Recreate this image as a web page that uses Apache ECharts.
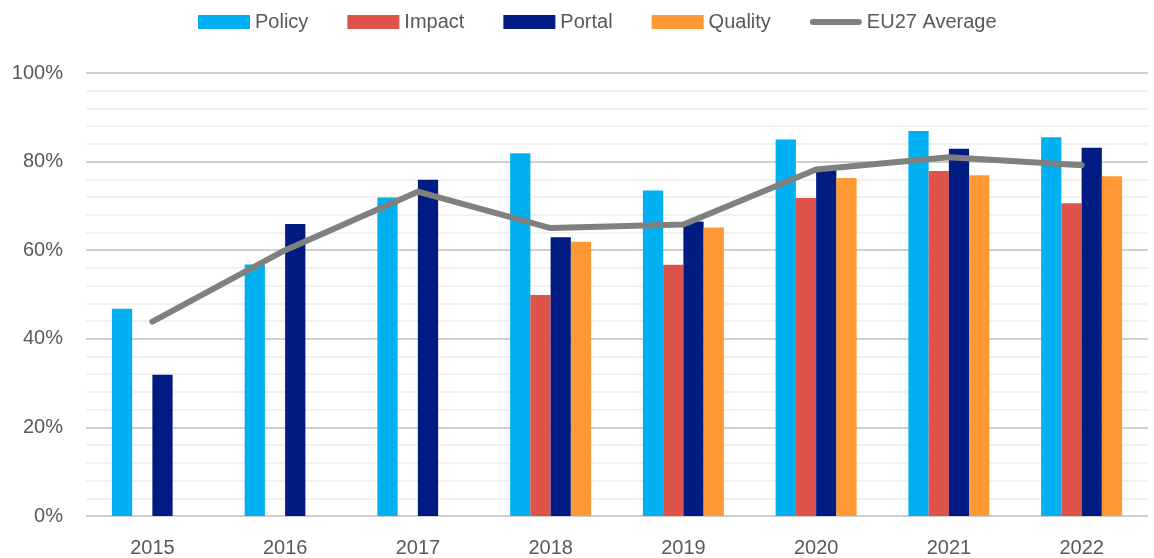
<!DOCTYPE html>
<html><head><meta charset="utf-8">
<script src="https://cdn.jsdelivr.net/npm/echarts@6/dist/echarts.min.js"></script>
<style>html,body{margin:0;padding:0;background:#fff}#c{width:1154px;height:558px}</style>
</head><body><div id="c"></div>
<script>
const years = ['2015','2016','2017','2018','2019','2020','2021','2022'];
const policy  = [46.8, 56.8, 71.9, 81.9, 73.5, 85.0, 86.9, 85.5];
const impact  = [null, null, null, 49.9, 56.7, 71.8, 77.9, 70.6];
const portal  = [31.9, 65.9, 75.9, 62.9, 66.5, 78.8, 82.9, 83.1];
const quality = [null, null, null, 61.9, 65.1, 76.3, 76.9, 76.7];
const eu27    = [43.9, 60.0, 73.2, 65.0, 65.8, 78.2, 81.0, 79.2];

const FONT = '"Liberation Sans", sans-serif';
const chart = echarts.init(document.getElementById('c'), null, {renderer:'canvas'});
const bar = (name, data, color) => ({
  name, type:'bar', data, barGap:'0%', barCategoryGap:'39%',
  itemStyle:{color}
});
chart.setOption({
  animation:false,
  textStyle:{fontFamily:FONT},
  legend:{
    top:7, left:193, itemWidth:52, itemHeight:14, itemGap:39,
    symbolKeepAspect:true,
    textStyle:{fontSize:20, color:'#595959', fontFamily:FONT},
    data:[
      {name:'Policy', icon:'rect'},
      {name:'Impact', icon:'rect'},
      {name:'Portal', icon:'rect'},
      {name:'Quality', icon:'rect'},
      {name:'EU27 Average', icon:'path://M3.5,0 L56.5,0 A3.5,3.5 0 0 1 56.5,7 L3.5,7 A3.5,3.5 0 0 1 3.5,0 Z', itemStyle:{color:'#808080'}}
    ]
  },
  grid:{left:86, right:6, top:73, bottom:42},
  xAxis:{
    type:'category', data:years,
    axisLine:{show:false}, axisTick:{show:false},
    axisLabel:{fontSize:20, color:'#595959', margin:22, fontFamily:FONT}
  },
  yAxis:{
    type:'value', min:0, max:100, interval:20,
    axisLine:{show:false}, axisTick:{show:false},
    axisLabel:{formatter:'{value}%', fontSize:20, color:'#595959', margin:23, fontFamily:FONT},
    splitLine:{lineStyle:{color:'#bfbfbf', width:1.5}},
    minorTick:{show:false, splitNumber:5},
    minorSplitLine:{show:true, lineStyle:{color:'#eeeeee', width:1.5}}
  },
  series:[
    bar('Policy', policy, '#00b0f0'),
    bar('Impact', impact, '#de534a'),
    bar('Portal', portal, '#001c83'),
    bar('Quality', quality, '#ff9933'),
    {name:'EU27 Average', type:'line', data:eu27, symbol:'none',
     lineStyle:{color:'#808080', width:6, cap:'round', join:'round'},
     itemStyle:{color:'#808080'}, z:5}
  ]
});
</script></body></html>
